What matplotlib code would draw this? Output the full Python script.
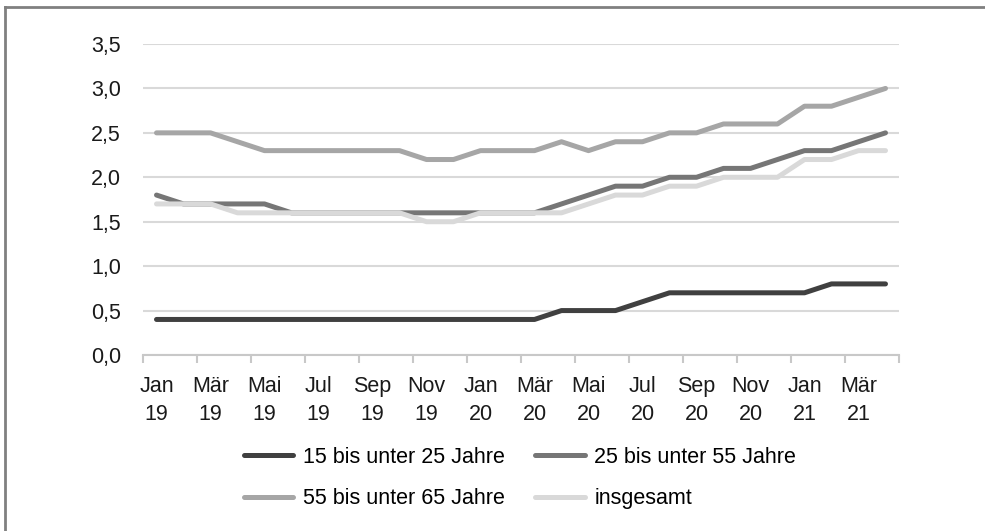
import numpy as np
import matplotlib
matplotlib.use('Agg')
import matplotlib.pyplot as plt
from matplotlib.lines import Line2D
from matplotlib.ticker import FixedLocator, FuncFormatter

plt.rcParams['font.family'] = ['Liberation Sans', 'DejaVu Sans']
font_size = 15.5
plt.rcParams.update({'font.size': font_size})

# Monatswerte Jan 2019 bis Apr 2021
months = ['Jan 19', 'Feb 19', 'Mär 19', 'Apr 19', 'Mai 19', 'Jun 19', 'Jul 19', 'Aug 19',
          'Sep 19', 'Okt 19', 'Nov 19', 'Dez 19', 'Jan 20', 'Feb 20', 'Mär 20', 'Apr 20',
          'Mai 20', 'Jun 20', 'Jul 20', 'Aug 20', 'Sep 20', 'Okt 20', 'Nov 20', 'Dez 20',
          'Jan 21', 'Feb 21', 'Mär 21', 'Apr 21']

age_15_25 = [0.4, 0.4, 0.4, 0.4, 0.4, 0.4, 0.4, 0.4, 0.4, 0.4, 0.4, 0.4, 0.4, 0.4,
             0.4, 0.5, 0.5, 0.5, 0.6, 0.7, 0.7, 0.7, 0.7, 0.7, 0.7, 0.8, 0.8, 0.8]
age_25_55 = [1.8, 1.7, 1.7, 1.7, 1.7, 1.6, 1.6, 1.6, 1.6, 1.6, 1.6, 1.6, 1.6, 1.6,
             1.6, 1.7, 1.8, 1.9, 1.9, 2.0, 2.0, 2.1, 2.1, 2.2, 2.3, 2.3, 2.4, 2.5]
age_55_65 = [2.5, 2.5, 2.5, 2.4, 2.3, 2.3, 2.3, 2.3, 2.3, 2.3, 2.2, 2.2, 2.3, 2.3,
             2.3, 2.4, 2.3, 2.4, 2.4, 2.5, 2.5, 2.6, 2.6, 2.6, 2.8, 2.8, 2.9, 3.0]
total = [1.7, 1.7, 1.7, 1.6, 1.6, 1.6, 1.6, 1.6, 1.6, 1.6, 1.5, 1.5, 1.6, 1.6,
         1.6, 1.6, 1.7, 1.8, 1.8, 1.9, 1.9, 2.0, 2.0, 2.0, 2.2, 2.2, 2.3, 2.3]

series = [('15 bis unter 25 Jahre', age_15_25, '#404040'),
          ('25 bis unter 55 Jahre', age_25_55, '#767676'),
          ('55 bis unter 65 Jahre', age_55_65, '#a6a6a6'),
          ('insgesamt', total, '#d9d9d9')]

fig = plt.figure(figsize=(9.85, 5.31), dpi=100)
ax = fig.add_axes([143/985, 1 - 355/531, 756/985, 311/531])

x = np.arange(len(months))
for label, vals, col in series:
    ax.plot(x, vals, color=col, lw=3.6, label=label, solid_capstyle='round',
            solid_joinstyle='round')

# Achsen
ax.set_xlim(-0.5, len(months) - 0.5)
ax.set_ylim(0, 3.5)
ax.yaxis.set_major_locator(FixedLocator(np.arange(0, 3.51, 0.5)))
ax.yaxis.set_major_formatter(FuncFormatter(lambda v, p: f'{v:.1f}'.replace('.', ',')))
ax.grid(axis='y', color='#d9d9d9', lw=1.5)
ax.set_axisbelow(True)
for s in ['left', 'right', 'top']:
    ax.spines[s].set_visible(False)
ax.spines['bottom'].set_color('#c8c8c8')
ax.spines['bottom'].set_linewidth(1.5)
ax.tick_params(axis='y', length=0, pad=16, labelcolor='#1a1a1a')

# Striche zwischen Kategorien, Beschriftung jeden zweiten Monat
ax.set_xticks(np.arange(-0.5, len(months), 2))
ax.set_xticklabels([])
ax.set_xticks(x[::2], minor=True)
ax.set_xticklabels([m.replace(' ', '\n') for m in months[::2]], minor=True,
                   linespacing=1.45)
ax.tick_params(axis='x', which='major', length=6, width=1.5, color='#c8c8c8',
               direction='out')
ax.tick_params(axis='x', which='minor', length=0, pad=15, labelcolor='#1a1a1a')

# Legende zeilenweise wie im Original
handles, labels = ax.get_legend_handles_labels()
order = [0, 2, 1, 3]
ax.legend([handles[i] for i in order], [labels[i] for i in order],
          loc='center', bbox_to_anchor=(520/985, 1 - 478/531),
          bbox_transform=fig.transFigure, ncol=2, frameon=False,
          handlelength=2.3, handletextpad=0.45, columnspacing=1.4,
          labelspacing=0.95, fontsize=font_size)

# Rahmen links und oben
fig.add_artist(Line2D([5/985, 5/985], [0, 1 - 7/531], transform=fig.transFigure,
                      color='#808080', lw=2))
fig.add_artist(Line2D([5/985, 1], [1 - 7/531, 1 - 7/531], transform=fig.transFigure,
                      color='#808080', lw=2))

fig.savefig('out.png', dpi=100)
